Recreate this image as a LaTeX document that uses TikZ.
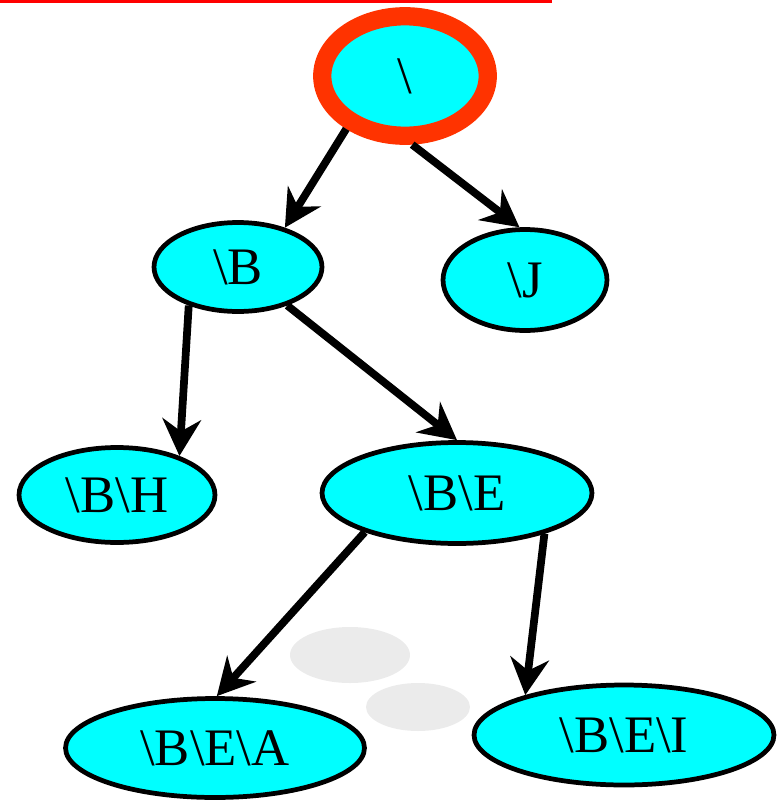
\documentclass[tikz,border=0pt]{standalone}
\usepackage{fontspec}
\setmainfont{Liberation Serif}
\usepackage{tikz}
\usetikzlibrary{arrows.meta,shapes.geometric}
\definecolor{dircyan}{HTML}{00FFFF}
\definecolor{ringred}{HTML}{FF3300}
\newcommand{\bs}{\textbackslash}

\begin{document}
\begin{tikzpicture}[x=0.02cm,y=-0.02cm,
  dir/.style={ellipse,draw,line width=2.7pt,fill=dircyan,inner sep=0pt,
              font=\fontsize{30}{34}\selectfont},
  rootdir/.style={dir,draw=ringred,line width=10.4pt},
  link/.style={-{Stealth[length=21pt,width=22pt,inset=7pt]},line width=4.4pt}
]
  \useasboundingbox (0,0) rectangle (784,805);
  % rule at the top and the grey shadows behind the lower nodes
  \draw[red,line width=1.7pt] (0,1.5) -- (552,1.5);
  \fill[black!8] (350,655) ellipse [x radius=60,y radius=28];
  \fill[black!8] (418,707) ellipse [x radius=52,y radius=24];

  \node[rootdir,minimum width=3.31cm,minimum height=2.39cm] (root) at (405,76) {\bs};
  \node[dir,minimum width=3.36cm,minimum height=1.78cm] (b) at (238,267) {\bs B};
  \node[dir,minimum width=3.28cm,minimum height=2.02cm] (j) at (525,280) {\bs J};
  \node[dir,minimum width=3.92cm,minimum height=1.9cm] (bh) at (117,495) {\bs B\bs H};
  \node[dir,minimum width=5.4cm,minimum height=2.02cm] (be) at (457,493) {\bs B\bs E};
  \node[dir,minimum width=5.98cm,minimum height=1.98cm] (bea) at (215,748) {\bs B\bs E\bs A};
  \node[dir,minimum width=6.0cm,minimum height=2.0cm] (bei) at (624,735) {\bs B\bs E\bs I};

  \draw[link] (root.222) -- (b.40);
  \draw[link] (root.276) -- (j.96);
  \draw[link] (b.218) -- (bh.32);
  \draw[link] (b.322) -- (be.90);
  \draw[link] (be.203) -- (bea.88);
  \draw[link] (be.335) -- (bei.158);
\end{tikzpicture}
\end{document}
